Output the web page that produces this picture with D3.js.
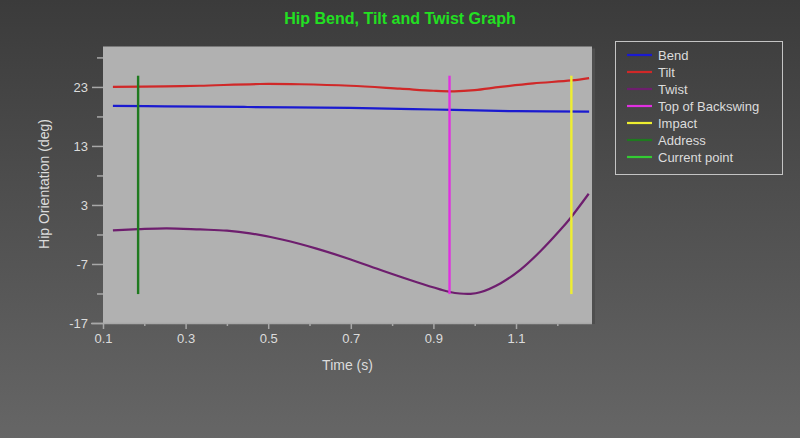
<!DOCTYPE html>
<html>
<head>
<meta charset="utf-8">
<script src="https://cdn.jsdelivr.net/npm/d3@7"></script>
<style>
html,body{margin:0;padding:0;background:#4a4a4a;}
svg{display:block;}
text{font-family:"Liberation Sans",Arial,sans-serif;}
</style>
</head>
<body>
<svg id="chart" width="800" height="438"></svg>
<script>
const title = "Hip Bend, Tilt and Twist Graph";
const xTicks = [0.1, 0.3, 0.5, 0.7, 0.9, 1.1];
const xMinorTicks = [0.2, 0.4, 0.6, 0.8, 1.0, 1.2];
const yTicks = [-17, -7, 3, 13, 23];
const yMinorTicks = [-12, -2, 8, 18, 28];

const bendT = [0.124, 0.25, 0.45, 0.698, 0.85, 0.95, 1.1, 1.277];
const bendV = [19.8, 19.7, 19.6, 19.45, 19.25, 19.1, 18.9, 18.8];

const tiltT = [0.124, 0.25, 0.334, 0.48, 0.577, 0.698, 0.819, 0.9, 0.95, 1.0, 1.062, 1.142, 1.234, 1.277];
const tiltV = [23.0, 23.1, 23.2, 23.5, 23.45, 23.2, 22.7, 22.35, 22.25, 22.45, 23.0, 23.6, 24.1, 24.5];

const twistT = [0.124, 0.185, 0.254, 0.335, 0.4, 0.456, 0.536, 0.617, 0.698, 0.779, 0.86, 0.916, 0.94, 0.964, 0.99, 1.013, 1.062, 1.111, 1.159, 1.208, 1.232, 1.276];
const twistV = [-1.3, -1.1, -0.95, -1.15, -1.35, -1.8, -2.9, -4.4, -6.2, -8.2, -10.1, -11.3, -11.75, -12.0, -12.05, -11.8, -10.3, -7.95, -4.85, -1.17, 0.8, 4.9];

const markerNames = ["Top of Backswing", "Impact", "Address"];
const markerTimes = [0.939, 1.234, 0.185];
const markerRange = [-12.1, 24.9];

const legendNames = ["Bend", "Tilt", "Twist", "Top of Backswing", "Impact", "Address", "Current point"];
const legendColors = ["#1a1ad0", "#d02828", "#6e1e6e", "#e030e0", "#eeee30", "#1f7a1f", "#33cc33"];

const svg = d3.select("#chart");
const W = 800, H = 438;
const m = {left: 103, right: 208, top: 46.5, bottom: 115};
const pw = W - m.left - m.right, ph = H - m.top - m.bottom;

const defs = svg.append("defs");
const grad = defs.append("linearGradient").attr("id", "bg").attr("x1", 0).attr("y1", 0).attr("x2", 0).attr("y2", 1);
grad.append("stop").attr("offset", "0%").attr("stop-color", "#3b3b3b");
grad.append("stop").attr("offset", "100%").attr("stop-color", "#666666");
svg.append("rect").attr("width", W).attr("height", H).attr("fill", "url(#bg)");

const x = d3.scaleLinear().domain([0.1, 1.284]).range([m.left, m.left + pw]);
const y = d3.scaleLinear().domain([-17, 29.85]).range([m.top + ph, m.top]);

// plot background
svg.append("rect").attr("x", m.left + pw).attr("y", m.top + 2).attr("width", 3).attr("height", ph - 1).attr("fill", "#4e4e4e");
svg.append("rect").attr("x", m.left).attr("y", m.top).attr("width", pw).attr("height", ph).attr("fill", "#b1b1b1");

// title
svg.append("text").attr("x", 400).attr("y", 24).attr("text-anchor", "middle")
  .attr("fill", "#22e022").attr("font-size", 16).attr("font-weight", "bold")
  .style("font-family", "'Liberation Sans Narrow','Liberation Sans',Arial,sans-serif")
  .text(title);

// axes
const axisColor = "#a8a8a8";
const labelColor = "#dcdcdc";
const gx = svg.append("g").attr("transform", `translate(0,${m.top + ph})`)
  .call(d3.axisBottom(x).tickValues(xTicks).tickSize(6).tickPadding(5).tickFormat(d3.format(".1f")));
const gxm = svg.append("g").attr("transform", `translate(0,${m.top + ph})`)
  .call(d3.axisBottom(x).tickValues(xMinorTicks).tickSize(3).tickFormat(""));
const gy = svg.append("g").attr("transform", `translate(${m.left},0)`)
  .call(d3.axisLeft(y).tickValues(yTicks).tickSize(11).tickPadding(4).tickFormat(d => String(d)));
const gym = svg.append("g").attr("transform", `translate(${m.left},0)`)
  .call(d3.axisLeft(y).tickValues(yMinorTicks).tickSize(6).tickFormat(""));
[gx, gxm, gy, gym].forEach(g => {
  g.selectAll("path.domain").attr("stroke", axisColor).attr("stroke-width", 1.5);
  g.selectAll(".tick line").attr("stroke", axisColor).attr("stroke-width", 1.5);
  g.selectAll(".tick text").attr("fill", labelColor).attr("font-size", 13)
    .style("font-family", "'Liberation Sans',Arial,sans-serif");
});
gy.selectAll("path.domain").remove();
gym.selectAll("path.domain").remove();
gxm.selectAll("path.domain").remove();
gx.select("path.domain").attr("d", `M${m.left - 12},0.5H${m.left + pw}`);

svg.append("text").attr("x", m.left + pw / 2).attr("y", 370).attr("text-anchor", "middle")
  .attr("fill", labelColor).attr("font-size", 14).text("Time (s)");
svg.append("text").attr("transform", `translate(49,184) rotate(-90)`).attr("text-anchor", "middle")
  .attr("fill", labelColor).attr("font-size", 14).text("Hip Orientation (deg)");

// lines
const line = d3.line().x(d => x(d[0])).y(d => y(d[1])).curve(d3.curveCatmullRom.alpha(0.5));
const series = [
  {t: bendT, v: bendV, c: legendColors[0]},
  {t: tiltT, v: tiltV, c: legendColors[1]},
  {t: twistT, v: twistV, c: legendColors[2]}
];
series.forEach(s => {
  svg.append("path").datum(s.t.map((t, i) => [t, s.v[i]]))
    .attr("d", line).attr("fill", "none").attr("stroke", s.c).attr("stroke-width", 2.2);
});

// marker lines
const markerColors = [legendColors[3], legendColors[4], legendColors[5]];
markerTimes.forEach((t, i) => {
  svg.append("line").attr("x1", x(t)).attr("x2", x(t))
    .attr("y1", y(markerRange[1])).attr("y2", y(markerRange[0]))
    .attr("stroke", markerColors[i]).attr("stroke-width", 2.4);
});

// legend
const lg = svg.append("g");
lg.append("rect").attr("x", 615.5).attr("y", 41.5).attr("width", 167).attr("height", 133)
  .attr("fill", "none").attr("stroke", "#c4c4c4").attr("stroke-width", 1);
legendNames.forEach((n, i) => {
  const yy = 55 + i * 17;
  lg.append("line").attr("x1", 627).attr("x2", 652).attr("y1", yy).attr("y2", yy)
    .attr("stroke", legendColors[i]).attr("stroke-width", 2.2);
  lg.append("text").attr("x", 658).attr("y", yy + 4.5).attr("fill", labelColor)
    .attr("font-size", 13).text(n);
});
</script>
</body>
</html>
